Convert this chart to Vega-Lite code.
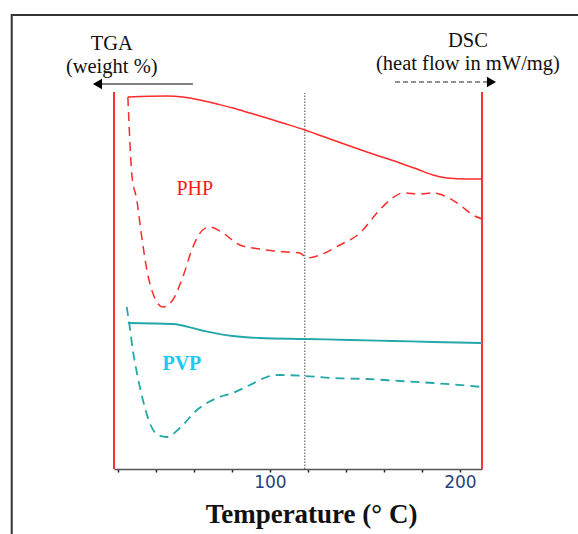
{
  "$schema": "https://vega.github.io/schema/vega-lite/v6.json",
  "width": 368,
  "height": 377,
  "autosize": {"type": "none"},
  "padding": {"left": 114, "top": 92, "right": 96, "bottom": 65},
  "background": "white",
  "config": {"view": {"stroke": null}},
  "datasets": {
    "frame": [{"t": -35.8, "t2": 273.7, "v": 454, "v2": -91}],
    "borders": [{"t": 18, "v": 0, "v2": 377}, {"t": 211.6, "v": 0, "v2": 377}],
    "marker": [{"t": 118.4, "v": 0, "v2": 376}],
    "curves": [
      {"s": "PHP TGA", "t": 25.3, "v": 372}, {"s": "PHP TGA", "t": 45.8, "v": 373}, {"s": "PHP TGA", "t": 54.2, "v": 372},
      {"s": "PHP TGA", "t": 63.2, "v": 369}, {"s": "PHP TGA", "t": 72.1, "v": 365}, {"s": "PHP TGA", "t": 80.5, "v": 361},
      {"s": "PHP TGA", "t": 89.5, "v": 356}, {"s": "PHP TGA", "t": 98.4, "v": 351}, {"s": "PHP TGA", "t": 106.8, "v": 346},
      {"s": "PHP TGA", "t": 118.4, "v": 339}, {"s": "PHP TGA", "t": 133.2, "v": 329}, {"s": "PHP TGA", "t": 151.1, "v": 317},
      {"s": "PHP TGA", "t": 168.4, "v": 306}, {"s": "PHP TGA", "t": 177.4, "v": 300}, {"s": "PHP TGA", "t": 185.8, "v": 294},
      {"s": "PHP TGA", "t": 193.2, "v": 291}, {"s": "PHP TGA", "t": 203.7, "v": 290}, {"s": "PHP TGA", "t": 211.6, "v": 290},

      {"s": "PHP DSC", "t": 25.3, "v": 372}, {"s": "PHP DSC", "t": 26.3, "v": 329}, {"s": "PHP DSC", "t": 27.4, "v": 294},
      {"s": "PHP DSC", "t": 30.0, "v": 269}, {"s": "PHP DSC", "t": 32.6, "v": 232}, {"s": "PHP DSC", "t": 35.3, "v": 199},
      {"s": "PHP DSC", "t": 38.4, "v": 176}, {"s": "PHP DSC", "t": 43.7, "v": 162}, {"s": "PHP DSC", "t": 48.9, "v": 169},
      {"s": "PHP DSC", "t": 54.2, "v": 192}, {"s": "PHP DSC", "t": 59.5, "v": 222}, {"s": "PHP DSC", "t": 64.7, "v": 239},
      {"s": "PHP DSC", "t": 68.4, "v": 242}, {"s": "PHP DSC", "t": 75.3, "v": 236}, {"s": "PHP DSC", "t": 84.2, "v": 224},
      {"s": "PHP DSC", "t": 94.7, "v": 220}, {"s": "PHP DSC", "t": 108.9, "v": 217}, {"s": "PHP DSC", "t": 115.8, "v": 216},
      {"s": "PHP DSC", "t": 119.5, "v": 211}, {"s": "PHP DSC", "t": 126.3, "v": 214}, {"s": "PHP DSC", "t": 136.8, "v": 224},
      {"s": "PHP DSC", "t": 147.4, "v": 236}, {"s": "PHP DSC", "t": 156.3, "v": 256}, {"s": "PHP DSC", "t": 163.2, "v": 269},
      {"s": "PHP DSC", "t": 170.0, "v": 276}, {"s": "PHP DSC", "t": 178.9, "v": 275}, {"s": "PHP DSC", "t": 185.8, "v": 276},
      {"s": "PHP DSC", "t": 193.2, "v": 272}, {"s": "PHP DSC", "t": 200.0, "v": 264}, {"s": "PHP DSC", "t": 206.8, "v": 254},
      {"s": "PHP DSC", "t": 211.6, "v": 250},

      {"s": "PVP TGA", "t": 25.3, "v": 146}, {"s": "PVP TGA", "t": 48.9, "v": 145}, {"s": "PVP TGA", "t": 63.2, "v": 139},
      {"s": "PVP TGA", "t": 80.5, "v": 133}, {"s": "PVP TGA", "t": 94.7, "v": 131}, {"s": "PVP TGA", "t": 118.4, "v": 130},
      {"s": "PVP TGA", "t": 142.1, "v": 129}, {"s": "PVP TGA", "t": 164.7, "v": 128}, {"s": "PVP TGA", "t": 185.8, "v": 127},
      {"s": "PVP TGA", "t": 211.6, "v": 126},

      {"s": "PVP DSC", "t": 24.7, "v": 162}, {"s": "PVP DSC", "t": 26.3, "v": 142}, {"s": "PVP DSC", "t": 27.9, "v": 119},
      {"s": "PVP DSC", "t": 30.5, "v": 92}, {"s": "PVP DSC", "t": 33.2, "v": 69}, {"s": "PVP DSC", "t": 36.8, "v": 46},
      {"s": "PVP DSC", "t": 41.1, "v": 34}, {"s": "PVP DSC", "t": 45.8, "v": 32}, {"s": "PVP DSC", "t": 52.6, "v": 41},
      {"s": "PVP DSC", "t": 61.6, "v": 59}, {"s": "PVP DSC", "t": 72.1, "v": 71}, {"s": "PVP DSC", "t": 80.5, "v": 76},
      {"s": "PVP DSC", "t": 89.5, "v": 84}, {"s": "PVP DSC", "t": 98.4, "v": 92}, {"s": "PVP DSC", "t": 105.3, "v": 94},
      {"s": "PVP DSC", "t": 118.4, "v": 93}, {"s": "PVP DSC", "t": 133.2, "v": 91}, {"s": "PVP DSC", "t": 151.1, "v": 90},
      {"s": "PVP DSC", "t": 168.4, "v": 88}, {"s": "PVP DSC", "t": 185.8, "v": 86}, {"s": "PVP DSC", "t": 211.6, "v": 82}
    ],
    "texts": [
      {"k": "head", "t": 16.8, "v": 419, "txt": "TGA"},
      {"k": "head", "t": 16.8, "v": 396, "txt": "(weight %)"},
      {"k": "head", "t": 204.2, "v": 422, "txt": "DSC"},
      {"k": "head", "t": 204.2, "v": 399, "txt": "(heat flow in mW/mg)"},
      {"k": "php", "t": 60.5, "v": 274, "txt": "PHP"},
      {"k": "pvp", "t": 53.7, "v": 99, "txt": "PVP"}
    ],
    "arrows": [
      {"a": "tga", "t": 59.5, "v": 385}, {"a": "tga", "t": 10.5, "v": 385},
      {"a": "dsc", "t": 165.8, "v": 387}, {"a": "dsc", "t": 214.2, "v": 387}
    ],
    "heads": [
      {"a": "tga", "t": 9.3, "v": 385},
      {"a": "dsc", "t": 216.6, "v": 387}
    ]
  },
  "encoding": {
    "x": {
      "field": "t", "type": "quantitative",
      "scale": {"domain": [18, 211.6], "nice": false, "zero": false},
      "axis": {
        "values": [20, 40, 60, 80, 100, 120, 140, 160, 180, 200],
        "labelExpr": "datum.value == 100 || datum.value == 200 ? datum.label : ''",
        "grid": false,
        "domainColor": "#555", "domainWidth": 1.5,
        "tickColor": "#222", "tickSize": 3, "tickWidth": 1.5,
        "labelFont": "DejaVu Sans", "labelFontSize": 17, "labelColor": "#2a3f7f", "labelPadding": 2,
        "labelOverlap": false,
        "title": "Temperature (° C)",
        "titleFont": "Liberation Serif", "titleFontSize": 27, "titleFontWeight": "bold", "titleColor": "#111",
        "titleX": 197, "titleY": 53, "titleAlign": "center", "titleBaseline": "alphabetic"
      }
    },
    "y": {
      "field": "v", "type": "quantitative",
      "scale": {"domain": [0, 377], "nice": false, "zero": false},
      "axis": null
    }
  },
  "layer": [
    {
      "data": {"name": "frame"},
      "mark": {"type": "rect", "filled": false, "stroke": "#333", "strokeWidth": 2, "clip": false},
      "encoding": {"x2": {"field": "t2"}, "y2": {"field": "v2"}}
    },
    {
      "data": {"name": "borders"},
      "mark": {"type": "rule", "color": "#ff3333", "strokeWidth": 2},
      "encoding": {"y2": {"field": "v2"}}
    },
    {
      "data": {"name": "marker"},
      "mark": {"type": "rule", "color": "#444", "strokeWidth": 1, "strokeDash": [1.5, 1.5]},
      "encoding": {"y2": {"field": "v2"}}
    },
    {
      "data": {"name": "curves"},
      "transform": [{"filter": "datum.s == 'PHP TGA'"}],
      "mark": {"type": "line", "color": "#ff2a2a", "strokeWidth": 1.5, "interpolate": "monotone"},
      "encoding": {}
    },
    {
      "data": {"name": "curves"},
      "transform": [{"filter": "datum.s == 'PHP DSC'"}],
      "mark": {"type": "line", "color": "#ff2a2a", "strokeWidth": 1.5, "interpolate": "monotone", "strokeDash": [9, 6]},
      "encoding": {}
    },
    {
      "data": {"name": "curves"},
      "transform": [{"filter": "datum.s == 'PVP TGA'"}],
      "mark": {"type": "line", "color": "#22a8a8", "strokeWidth": 1.8, "interpolate": "monotone"},
      "encoding": {}
    },
    {
      "data": {"name": "curves"},
      "transform": [{"filter": "datum.s == 'PVP DSC'"}],
      "mark": {"type": "line", "color": "#22a8a8", "strokeWidth": 1.8, "interpolate": "monotone", "strokeDash": [9, 6]},
      "encoding": {}
    },
    {
      "data": {"name": "texts"},
      "transform": [{"filter": "datum.k == 'head'"}],
      "mark": {"type": "text", "font": "Liberation Serif", "fontSize": 20.5, "color": "#111", "align": "center", "baseline": "alphabetic"},
      "encoding": {"text": {"field": "txt"}}
    },
    {
      "data": {"name": "texts"},
      "transform": [{"filter": "datum.k == 'php'"}],
      "mark": {"type": "text", "font": "Liberation Serif", "fontSize": 20, "color": "#ff1a1a", "align": "center", "baseline": "alphabetic"},
      "encoding": {"text": {"field": "txt"}}
    },
    {
      "data": {"name": "texts"},
      "transform": [{"filter": "datum.k == 'pvp'"}],
      "mark": {"type": "text", "font": "Liberation Serif", "fontSize": 20, "fontWeight": "bold", "color": "#1ec8f0", "align": "center", "baseline": "alphabetic"},
      "encoding": {"text": {"field": "txt"}}
    },
    {
      "data": {"name": "arrows"},
      "transform": [{"filter": "datum.a == 'tga'"}],
      "mark": {"type": "line", "color": "#555", "strokeWidth": 1.5},
      "encoding": {}
    },
    {
      "data": {"name": "arrows"},
      "transform": [{"filter": "datum.a == 'dsc'"}],
      "mark": {"type": "line", "color": "#222", "strokeWidth": 1.2, "strokeDash": [5, 3]},
      "encoding": {}
    },
    {
      "data": {"name": "heads"},
      "transform": [{"filter": "datum.a == 'tga'"}],
      "mark": {"type": "point", "shape": "triangle-left", "filled": true, "color": "#000", "size": 110, "opacity": 1},
      "encoding": {}
    },
    {
      "data": {"name": "heads"},
      "transform": [{"filter": "datum.a == 'dsc'"}],
      "mark": {"type": "point", "shape": "triangle-right", "filled": true, "color": "#000", "size": 110, "opacity": 1},
      "encoding": {}
    }
  ]
}
